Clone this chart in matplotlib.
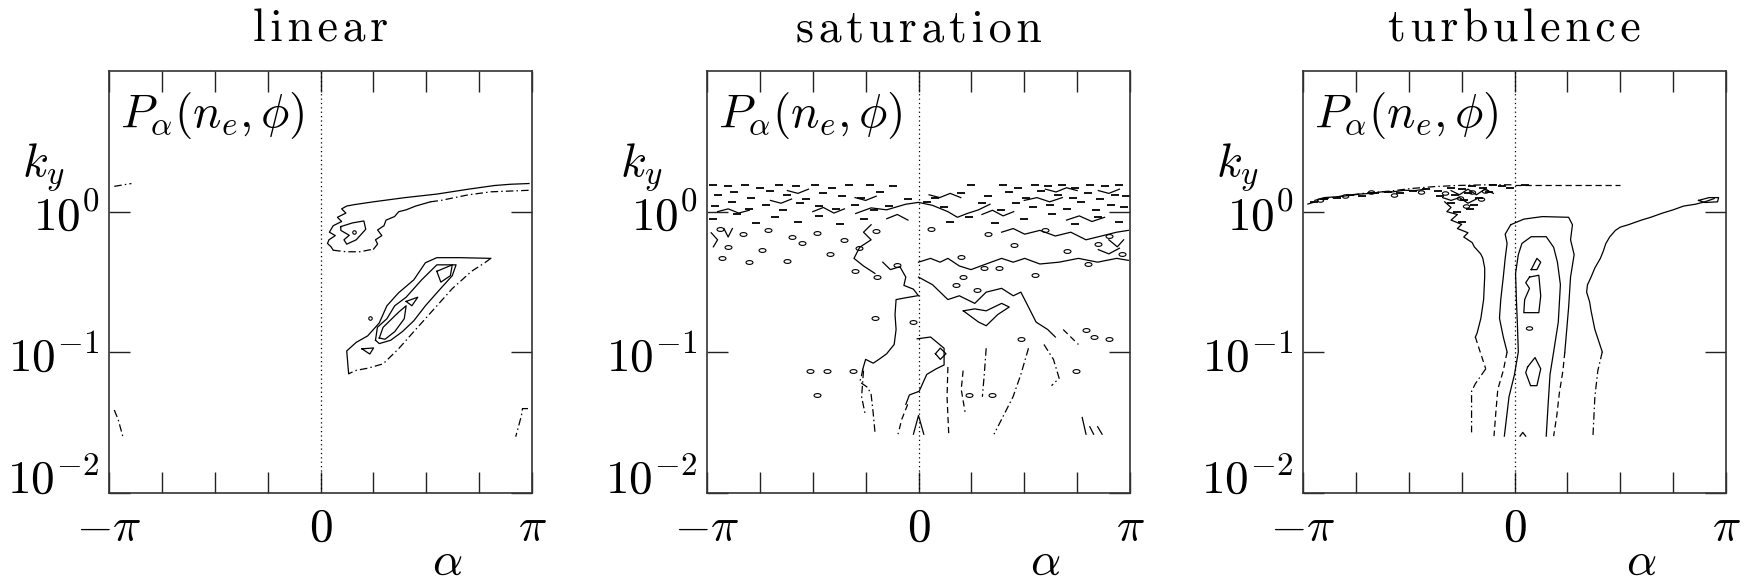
import numpy as np
import matplotlib
matplotlib.use("Agg")
import matplotlib.pyplot as plt
from matplotlib.path import Path

plt.rcParams["mathtext.fontset"] = "cm"
plt.rcParams["font.family"] = "serif"
plt.rcParams["font.serif"] = ["cmr10", "DejaVu Serif"]
plt.rcParams["axes.formatter.use_mathtext"] = True

# contour paths as (alpha / pi, log10 k_y)
TITLES = ["linear", "saturation", "turbulence"]

LIN_SOLID = [
    [(0.986, 0.2), (0.9, 0.195), (0.823, 0.186), (0.7, 0.16), (0.55, 0.125), (0.4, 0.1), (0.25, 0.07),
     (0.16, 0.05), (0.124, 0.04), (0.1, 0.02), (0.12, -0.01), (0.08, -0.04), (0.1, -0.07), (0.06, -0.1),
     (0.042, -0.146), (0.07, -0.17), (0.04, -0.2), (0.033, -0.226), (0.05, -0.25), (0.06, -0.274)],
    [(0.251, -0.266), (0.27, -0.23), (0.26, -0.2), (0.29, -0.17), (0.27, -0.13), (0.3, -0.1), (0.31, -0.06),
     (0.35, -0.035), (0.37, 0.0), (0.405, 0.013), (0.45, 0.04), (0.52, 0.07)],
    [(0.133, -1.152), (0.124, -0.99), (0.169, -0.929), (0.223, -0.883), (0.278, -0.791), (0.314, -0.669),
     (0.369, -0.577), (0.441, -0.485), (0.496, -0.363), (0.55, -0.327), (0.659, -0.327), (0.805, -0.332)],
]
LIN_DASHDOT = [
    [(-0.975, 0.18), (-0.935, 0.19), (-0.894, 0.2)],
    [(-0.975, -1.41), (-0.957, -1.476), (-0.935, -1.596)],
    [(0.981, -1.40), (0.955, -1.40), (0.95, -1.45), (0.923, -1.6)],
    [(0.06, -0.274), (0.12, -0.285), (0.187, -0.285), (0.251, -0.266)],
    [(0.52, 0.07), (0.569, 0.08), (0.7, 0.12), (0.805, 0.141), (0.986, 0.152)],
    [(0.805, -0.332), (0.777, -0.363), (0.714, -0.424), (0.623, -0.547), (0.532, -0.7), (0.441, -0.853),
     (0.369, -0.975), (0.296, -1.082), (0.223, -1.113), (0.169, -1.128), (0.133, -1.152)],
]
LIN_LOOPS = [
    [(0.096, -0.106), (0.151, -0.08), (0.205, -0.066), (0.214, -0.125), (0.169, -0.2), (0.124, -0.231),
     (0.111, -0.2), (0.136, -0.168), (0.096, -0.133)],
    [(0.26, -0.914), (0.269, -0.822), (0.314, -0.761), (0.351, -0.669), (0.405, -0.608), (0.478, -0.485),
     (0.55, -0.378), (0.641, -0.378), (0.623, -0.455), (0.55, -0.577), (0.496, -0.669), (0.441, -0.776),
     (0.387, -0.853), (0.332, -0.914), (0.278, -0.938)],
    [(0.278, -0.898), (0.296, -0.822), (0.369, -0.715), (0.405, -0.669), (0.396, -0.761), (0.351, -0.853),
     (0.305, -0.907)],
    [(0.55, -0.424), (0.623, -0.378), (0.614, -0.455), (0.569, -0.501)],
    [(0.196, -0.975), (0.251, -0.969), (0.233, -1.012)],
    [(0.405, -0.638), (0.46, -0.608), (0.432, -0.669)],
]
LIN_DOT_A = [0.16, 0.233]
LIN_DOT_LK = [-0.146, -0.756]

SAT_SOLID = [
    [(-0.006, -0.598), (-0.06, -0.612), (-0.106, -0.625), (-0.111, -0.731), (-0.106, -0.838), (-0.115, -0.944),
     (-0.151, -1.011), (-0.187, -1.05), (-0.214, -1.077), (-0.25, -1.05), (-0.263, -1.117)],
    [(-0.169, -0.359), (-0.133, -0.412), (-0.088, -0.391), (-0.06, -0.465), (-0.069, -0.524), (-0.024, -0.551),
     (0.0, -0.598)],
    [(0.0, -0.359), (0.057, -0.332), (0.102, -0.359), (0.139, -0.332), (0.193, -0.386), (0.248, -0.412),
     (0.32, -0.372), (0.393, -0.332), (0.448, -0.359), (0.502, -0.332), (0.574, -0.372), (0.665, -0.359),
     (0.756, -0.332), (0.847, -0.359), (0.937, -0.332), (0.992, -0.346)],
    [(0.393, -0.146), (0.448, -0.12), (0.502, -0.16), (0.574, -0.133), (0.647, -0.173), (0.72, -0.146),
     (0.792, -0.2), (0.865, -0.173), (0.937, -0.146), (0.992, -0.133)],
    [(0.0, -0.465), (0.066, -0.519), (0.139, -0.625), (0.193, -0.598), (0.266, -0.652), (0.32, -0.572),
     (0.393, -0.545), (0.448, -0.598), (0.484, -0.572), (0.52, -0.678), (0.556, -0.785), (0.611, -0.838),
     (0.647, -0.891)],
    [(-0.297, -0.013), (-0.224, 0.027), (-0.151, 0.013), (-0.06, 0.053), (0.0, 0.066), (0.066, 0.045),
     (0.139, 0.0), (0.184, -0.04), (0.23, -0.013), (0.284, 0.013), (0.338, 0.053)],
    [(-0.224, -0.093), (-0.26, -0.146), (-0.224, -0.2), (-0.278, -0.253), (-0.305, -0.332), (-0.26, -0.386),
     (-0.206, -0.439)],
    [(-0.006, -0.904), (0.057, -0.891), (0.121, -0.971), (0.121, -1.09), (0.084, -1.117), (0.039, -1.157),
     (0.003, -1.277), (-0.043, -1.303), (-0.06, -1.37)],
    [(0.774, -1.463), (0.792, -1.582)],
    [(0.81, -1.529), (0.828, -1.582)],
    [(0.847, -1.529), (0.868, -1.582)],
    [(-0.024, -1.582), (0.0, -1.449), (0.025, -1.582)],
    # short squiggles in the noisy band
    [(-0.95, 0.0), (-0.9, 0.02), (-0.85, -0.01), (-0.8, 0.01)],
    [(-0.7, 0.08), (-0.65, 0.06), (-0.6, 0.09)],
    [(-0.5, 0.0), (-0.45, 0.03), (-0.4, -0.01), (-0.35, 0.02)],
    [(-0.3, 0.1), (-0.25, 0.08), (-0.2, 0.11)],
    [(-0.15, -0.05), (-0.1, -0.02), (-0.05, -0.06)],
    [(0.05, 0.12), (0.1, 0.1), (0.15, 0.13), (0.2, 0.1)],
    [(0.3, -0.02), (0.35, 0.01), (0.4, -0.03), (0.45, 0.0)],
    [(0.5, 0.08), (0.56, 0.1), (0.62, 0.07), (0.68, 0.1)],
    [(0.7, -0.06), (0.76, -0.03), (0.82, -0.07), (0.88, -0.04)],
    [(0.85, 0.15), (0.9, 0.13), (0.95, 0.16)],
    [(-0.98, -0.15), (-0.95, -0.2), (-0.97, -0.25)],
    [(-0.92, -0.12), (-0.9, -0.18), (-0.88, -0.12)],
    [(0.9, -0.2), (0.94, -0.25), (0.97, -0.2)],
    [(0.85, -0.27), (0.9, -0.3), (0.95, -0.26)],
    [(-0.62, 0.15), (-0.57, 0.13), (-0.52, 0.16)],
    [(0.6, 0.16), (0.65, 0.14), (0.7, 0.17), (0.75, 0.15)],
]
SAT_DASHED = [
    [(-0.051, -1.37), (-0.079, -1.476), (-0.097, -1.582)],
    [(0.139, -1.104), (0.135, -1.316), (0.143, -1.582)],
    [(0.211, -1.13), (0.202, -1.263), (0.22, -1.423)],
    [(0.684, -0.838), (0.72, -0.891), (0.756, -0.944)],
]
SAT_DASHDOT = [
    [(-0.263, -1.117), (-0.27, -1.17), (-0.278, -1.21), (-0.24, -1.25), (-0.224, -1.3), (-0.215, -1.42),
     (-0.205, -1.58)],
    [(0.32, -0.971), (0.311, -1.157), (0.302, -1.316)],
    [(0.52, -0.971), (0.484, -1.157), (0.447, -1.316), (0.393, -1.476), (0.357, -1.582)],
    [(0.593, -0.944), (0.638, -1.05), (0.665, -1.184), (0.629, -1.237)],
    [(-0.26, -1.13), (-0.269, -1.316), (-0.251, -1.449)],
]
SAT_LOOPS = [
    [(0.212, -0.705), (0.284, -0.785), (0.32, -0.811), (0.375, -0.731), (0.429, -0.678), (0.393, -0.652),
     (0.32, -0.705), (0.266, -0.691)],
    [(0.08, -1.01), (0.103, -0.97), (0.13, -1.01), (0.103, -1.05)],
]
SAT_DASH_A = [-0.97, -0.9, -0.82, -0.75, -0.66, -0.58, -0.49, -0.41, -0.33, -0.23, -0.12, 0.25, 0.4, 0.47, 0.55,
              0.61, 0.68, 0.74, 0.81, 0.88, 0.95,
              -0.95, -0.87, -0.79, -0.7, -0.62, -0.53, -0.45, -0.36, -0.27, -0.18, -0.05, 0.08, 0.2, 0.33, 0.43,
              0.51, 0.58, 0.66, 0.73, 0.8, 0.86, 0.93, 0.98,
              -0.96, -0.88, -0.8, -0.72, -0.64, -0.56, -0.47, -0.39, -0.3, -0.21, -0.14, 0.04, 0.12, 0.3, 0.39,
              0.46, 0.54, 0.62, 0.7, 0.77, 0.84, 0.91, 0.97,
              -0.97, -0.86, -0.77, -0.68, -0.57, -0.47, -0.37, -0.26, 0.15, 0.24, 0.36, 0.5, 0.63, 0.74, 0.85, 0.95]
SAT_DASH_LK = [0.19, 0.18, 0.19, 0.17, 0.19, 0.18, 0.19, 0.17, 0.19, 0.19, 0.18, 0.19, 0.19, 0.17, 0.19,
               0.18, 0.19, 0.17, 0.19, 0.18, 0.19,
               0.12, 0.14, 0.1, 0.15, 0.12, 0.09, 0.13, 0.11, 0.1, 0.14, 0.09, 0.1, 0.13, 0.11, 0.14,
               0.1, 0.15, 0.12, 0.1, 0.13, 0.09, 0.12, 0.11,
               0.04, 0.07, 0.02, 0.05, 0.01, 0.06, 0.04, 0.02, 0.05, 0.01, 0.04, 0.07, 0.03, 0.06, 0.01,
               0.06, 0.03, 0.05, 0.02, 0.07, 0.01, 0.05, 0.03,
               -0.05, -0.02, -0.08, -0.04, -0.07, -0.03, -0.09, -0.05, -0.07, -0.04, -0.08, -0.05, -0.02, -0.09,
               -0.04, -0.07]
SAT_ISLAND_A = [-0.94, -0.83, -0.71, -0.6, -0.48, -0.35, -0.2, 0.06, 0.33, 0.6, 0.9, -0.9, -0.74, -0.55, -0.42,
                -0.28, 0.2, 0.45, 0.7, 0.85, -0.93, -0.8, -0.62, -0.3, -0.1, 0.38, 0.55, 0.8, 0.96,
                -0.206, -0.024, 0.239, 0.347, 0.275, 0.484, 0.792, 0.828, 0.9, 0.746, -0.514, -0.432, -0.478,
                -0.311, -0.197, 0.211, 0.311, 0.175]
SAT_ISLAND_LK = [-0.12, -0.16, -0.13, -0.18, -0.15, -0.2, -0.14, -0.12, -0.16, -0.13, -0.17, -0.25, -0.27,
                 -0.22, -0.3, -0.26, -0.32, -0.24, -0.28, -0.23, -0.33, -0.36, -0.35, -0.42, -0.38, -0.4, -0.45,
                 -0.37, -0.3,
                 -0.758, -0.785, -1.303, -1.303, -0.559, -0.904, -0.838, -0.891, -0.904, -1.13, -1.13, -1.13,
                 -1.303, -1.13, -0.465, -0.465, -0.399, -0.519]

TURB_SOLID = [
    [(-0.33, 0.07), (-0.3, 0.03), (-0.32, 0.0), (-0.27, -0.02), (-0.3, -0.06), (-0.25, -0.09), (-0.27, -0.12),
     (-0.22, -0.15), (-0.24, -0.18), (-0.2, -0.22), (-0.19, -0.25), (-0.16, -0.3), (-0.15, -0.33),
     (-0.141, -0.4), (-0.141, -0.465), (-0.146, -0.625), (-0.159, -0.758), (-0.177, -0.864), (-0.185, -0.891)],
    [(0.944, 0.093), (0.9, 0.07), (0.856, 0.053), (0.8, 0.04), (0.75, 0.013), (0.7, -0.01), (0.644, -0.04),
     (0.6, -0.06), (0.538, -0.093), (0.5, -0.11), (0.477, -0.133), (0.45, -0.18), (0.432, -0.226),
     (0.42, -0.28), (0.406, -0.332), (0.38, -0.4), (0.362, -0.465), (0.345, -0.52), (0.341, -0.572),
     (0.355, -0.64), (0.362, -0.705), (0.38, -0.838), (0.415, -0.997)],
    [(-0.018, -0.093), (-0.044, -0.16), (-0.035, -0.226), (-0.044, -0.332), (-0.053, -0.465), (-0.065, -0.625),
     (-0.071, -0.758), (-0.053, -0.891), (-0.035, -0.997)],
    [(-0.018, -0.093), (0.044, -0.053), (0.132, -0.035), (0.256, -0.04), (0.274, -0.093), (0.265, -0.2),
     (0.282, -0.306), (0.265, -0.465), (0.256, -0.678), (0.247, -0.838), (0.238, -0.997)],
    [(-0.048, -1.596), (-0.026, -1.316), (0.0, -1.157), (0.018, -0.997), (0.014, -0.811), (0.009, -0.625),
     (0.005, -0.439), (0.018, -0.306), (0.035, -0.226), (0.079, -0.178), (0.15, -0.178), (0.185, -0.253),
     (0.203, -0.359), (0.217, -0.519), (0.207, -0.785), (0.185, -0.997), (0.168, -1.157), (0.159, -1.37),
     (0.15, -1.596)],
    [(0.026, -1.596), (0.039, -1.569), (0.053, -1.596)],
    [(-0.944, 0.08), (-0.9, 0.1), (-0.838, 0.106), (-0.78, 0.115), (-0.732, 0.125), (-0.68, 0.13),
     (-0.627, 0.141), (-0.58, 0.14), (-0.521, 0.152), (-0.47, 0.15), (-0.42, 0.16)],
    [(-0.3, 0.15), (-0.26, 0.12), (-0.22, 0.16), (-0.18, 0.12), (-0.14, 0.16), (-0.1, 0.13)],
    [(-0.34, 0.1), (-0.3, 0.08), (-0.26, 0.1), (-0.22, 0.06), (-0.18, 0.09)],
]
TURB_DASHED = [
    [(-0.185, -0.891), (-0.168, -0.971), (-0.136, -1.117)],
    [(-0.035, -0.997), (-0.053, -1.13), (-0.079, -1.263), (-0.088, -1.423), (-0.097, -1.596)],
    [(0.238, -0.997), (0.229, -1.13), (0.212, -1.29), (0.2, -1.45), (0.185, -1.596)],
    [(0.0, 0.19), (0.12, 0.19), (0.25, 0.19), (0.38, 0.19), (0.5, 0.19)],
]
TURB_DASHDOT = [
    [(-0.136, -1.117), (-0.185, -1.223), (-0.203, -1.277), (-0.203, -1.569)],
    [(0.415, -0.997), (0.394, -1.13), (0.38, -1.316), (0.371, -1.596)],
    [(-0.98, 0.053), (-0.891, 0.093), (-0.803, 0.114), (-0.697, 0.133), (-0.591, 0.146), (-0.485, 0.165),
     (-0.38, 0.178), (-0.274, 0.186), (-0.132, 0.191), (0.0, 0.191)],
]
TURB_LOOPS = [
    [(0.079, -0.412), (0.106, -0.332), (0.124, -0.359), (0.106, -0.412)],
    [(0.071, -0.465), (0.115, -0.452), (0.124, -0.598), (0.115, -0.718), (0.044, -0.718), (0.048, -0.625),
     (0.071, -0.545), (0.053, -0.505)],
    [(0.062, -1.104), (0.097, -1.037), (0.124, -1.117), (0.106, -1.237), (0.076, -1.237), (0.053, -1.144)],
    [(0.87, 0.08), (0.92, 0.1), (0.965, 0.1), (0.96, 0.07), (0.9, 0.065)],
]
TURB_DASH_A = [-0.95, -0.9, -0.84, -0.78, -0.72, -0.66, -0.6, -0.54, -0.48, -0.42, -0.36, -0.3, -0.25, -0.2,
               -0.15, -0.1, -0.06, -0.02, 0.05, -0.35, -0.28, -0.22, -0.17, -0.12, -0.3, -0.24, -0.19, -0.27,
               -0.21, -0.25]
TURB_DASH_LK = [0.07, 0.09, 0.1, 0.12, 0.11, 0.13, 0.14, 0.13, 0.15, 0.16, 0.15, 0.17, 0.16, 0.18, 0.17,
                0.19, 0.18, 0.17, 0.19, 0.11, 0.12, 0.13, 0.1, 0.14, 0.06, 0.08, 0.05, 0.0, 0.02, -0.07]
TURB_ISLAND_A = [-0.92, -0.8, -0.68, -0.57, -0.44, -0.33, -0.26, -0.2, -0.14, -0.23, -0.16, 0.067]
TURB_ISLAND_LK = [0.08, 0.11, 0.14, 0.12, 0.14, 0.13, 0.1, 0.14, 0.15, 0.04, 0.09, -0.824]

LW = 0.9
FS = 34
STYLES = {"solid": "-", "dashed": (0, (5, 3)), "dashdot": (0, (6, 2.5, 1.2, 2.5))}
_circ = Path.unit_circle()
FLAT_OVAL = Path(_circ.vertices * np.array([1.0, 0.55]), _circ.codes)


def draw(ax, paths, style, closed=False):
    for pts in paths:
        a = [p[0] for p in pts]
        lk = [p[1] for p in pts]
        if closed:
            a = a + a[:1]
            lk = lk + lk[:1]
        ax.plot(np.array(a) * np.pi, 10.0 ** np.array(lk), color="k", lw=LW, ls=STYLES[style])


def islands(ax, a, lk, marker, ms, mew):
    ax.plot(np.array(a) * np.pi, 10.0 ** np.array(lk), ls="none", marker=marker, ms=ms,
            mfc="none", mec="k", mew=mew)


def setup(ax, title):
    ax.set_yscale("log")
    ax.set_xlim(-np.pi, np.pi)
    ax.set_ylim(1e-2, 1e1)
    ax.set_xticks(np.arange(-4, 5) * np.pi / 4)
    ax.set_xticklabels([r"$-\pi$", "", "", "", r"$0$", "", "", "", r"$\pi$"])
    ax.set_yticks([1e-2, 1e-1, 1e0])
    ax.set_yticklabels([r"$10^{-2}$", r"$10^{-1}$", r"$10^{0}$"])
    ax.yaxis.set_minor_locator(matplotlib.ticker.NullLocator())
    ax.tick_params(axis="both", direction="in", length=15, width=1.0, color="#222222",
                   top=True, right=True, labelsize=FS)
    ax.tick_params(axis="x", pad=11)
    ax.tick_params(axis="y", pad=7)
    ax.get_yticklabels()[0].set_va("baseline")
    for s in ax.spines.values():
        s.set_linewidth(1.2)
        s.set_color("#333333")
    ax.axvline(0, color="k", lw=0.9, ls=(0, (1, 2.5)))
    ax.set_title("\u200a".join(title), fontsize=33, pad=21, family=["cmr10", "DejaVu Serif"])
    ax.text(0.027, 0.895, r"$P_{\alpha}(n_e,\phi)$", transform=ax.transAxes, fontsize=FS,
            va="center", ha="left")
    ax.text(-0.154, 0.77, r"$k_y$", transform=ax.transAxes, fontsize=FS, va="center", ha="center")
    ax.text(0.8, -0.216, r"$\alpha$", transform=ax.transAxes, fontsize=FS, va="bottom", ha="center")


fig = plt.figure(figsize=(17.44, 5.87), dpi=100)
lefts = [109 / 1744, 707 / 1744, 1303 / 1744]
axes = [fig.add_axes([l, 94 / 587, 423 / 1744, 422 / 587]) for l in lefts]

for ax, t in zip(axes, TITLES):
    setup(ax, t)

ax = axes[0]
draw(ax, LIN_SOLID, "solid")
draw(ax, LIN_DASHDOT, "dashdot")
draw(ax, LIN_LOOPS, "solid", closed=True)
islands(ax, LIN_DOT_A, LIN_DOT_LK, "o", 2.5, 0.8)

ax = axes[1]
draw(ax, SAT_SOLID, "solid")
draw(ax, SAT_DASHED, "dashed")
draw(ax, SAT_DASHDOT, "dashdot")
draw(ax, SAT_LOOPS, "solid", closed=True)
islands(ax, SAT_DASH_A, SAT_DASH_LK, "_", 6, 1.3)
islands(ax, SAT_ISLAND_A, SAT_ISLAND_LK, FLAT_OVAL, 5, 0.8)

ax = axes[2]
draw(ax, TURB_SOLID, "solid")
draw(ax, TURB_DASHED, "dashed")
draw(ax, TURB_DASHDOT, "dashdot")
draw(ax, TURB_LOOPS, "solid", closed=True)
islands(ax, TURB_DASH_A, TURB_DASH_LK, "_", 6, 1.3)
islands(ax, TURB_ISLAND_A, TURB_ISLAND_LK, FLAT_OVAL, 4.5, 0.8)

fig.savefig("out.png", dpi=100)
